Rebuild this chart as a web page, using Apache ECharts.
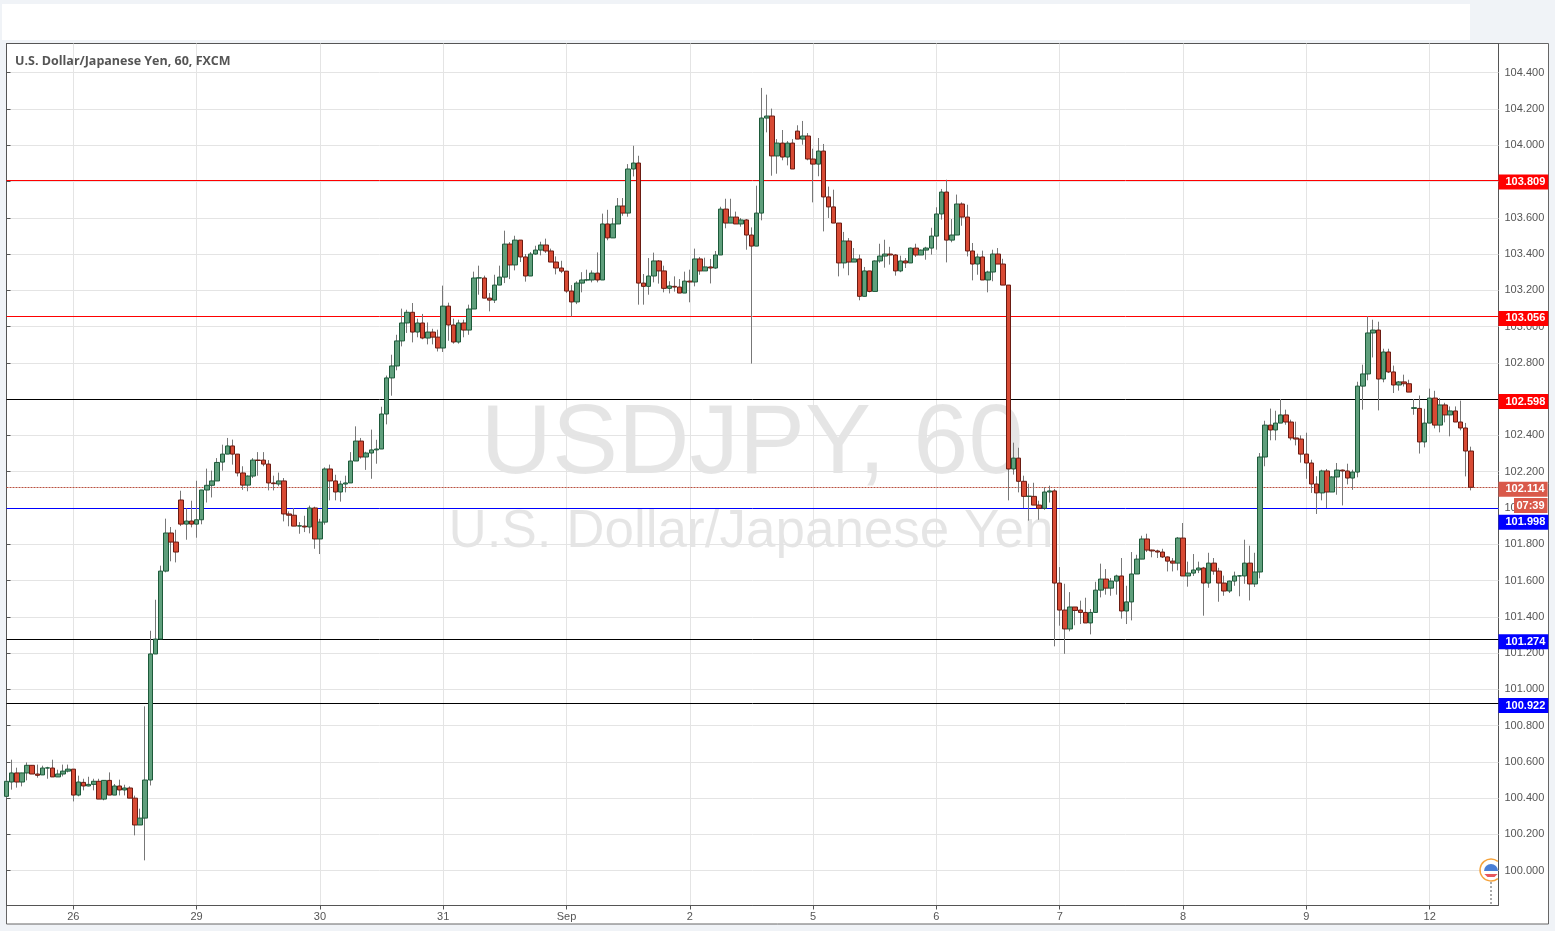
<!DOCTYPE html>
<html>
<head>
<meta charset="utf-8">
<title>USDJPY, 60</title>
<style>html,body{margin:0;padding:0;background:#f0f3f7}#main{width:1555px;height:931px}</style>
<script src="https://cdn.jsdelivr.net/npm/echarts@6/dist/echarts.min.js"></script>
</head>
<body>
<div id="main"></div>
<script>
const opens = [
100.41,100.489,100.539,100.489,100.539,100.581,100.533,100.528,100.566,100.566,
100.517,100.533,100.549,100.56,100.417,100.487,100.467,100.476,100.493,100.395,
100.498,100.417,100.467,100.445,100.456,100.40,100.252,100.29,100.50,101.195,
101.277,101.652,101.862,101.812,102.044,101.911,101.928,101.911,101.935,102.099,
102.125,102.149,102.253,102.297,102.342,102.297,102.193,102.126,102.176,102.264,
102.264,102.242,102.138,102.132,102.149,101.967,101.96,101.90,101.90,101.895,
102.0,101.829,101.922,102.215,102.149,102.088,102.132,102.138,102.259,102.369,
102.281,102.303,102.32,102.325,102.518,102.717,102.783,102.921,103.02,103.079,
102.97,103.02,102.937,102.97,102.942,102.882,103.113,103.009,102.915,103.02,
102.981,103.097,103.268,103.268,103.157,103.146,103.229,103.273,103.455,103.34,
103.477,103.384,103.279,103.40,103.422,103.45,103.417,103.356,103.323,103.306,
103.196,103.136,103.24,103.257,103.257,103.295,103.257,103.566,103.489,103.566,
103.665,103.626,103.869,103.902,103.24,103.222,103.279,103.362,103.307,103.211,
103.222,103.218,103.185,103.251,103.246,103.373,103.307,103.329,103.323,103.395,
103.648,103.571,103.604,103.566,103.588,103.505,103.444,103.626,104.15,104.161,
103.941,104.012,103.935,104.012,104.078,104.034,104.051,103.924,103.896,103.968,
103.715,103.66,103.571,103.351,103.472,103.356,103.373,103.167,103.307,103.194,
103.362,103.389,103.40,103.395,103.307,103.362,103.351,103.433,103.395,103.422,
103.433,103.499,103.621,103.742,103.477,103.505,103.676,103.604,103.417,103.345,
103.384,103.257,103.301,103.40,103.345,103.229,102.215,102.275,102.147,102.064,
102.064,102.016,101.998,102.088,102.094,101.586,101.437,101.333,101.454,101.437,
101.424,101.366,101.424,101.547,101.608,101.558,101.597,101.625,101.432,101.482,
101.636,101.718,101.829,101.768,101.763,101.757,101.73,101.707,101.696,101.834,
101.625,101.641,101.658,101.669,101.586,101.696,101.652,101.586,101.542,101.597,
101.625,101.625,101.696,101.581,101.647,102.281,102.457,102.43,102.468,102.513,
102.474,102.386,102.38,102.297,102.248,102.132,102.083,102.204,102.088,102.171,
102.209,102.204,102.165,102.198,102.672,102.739,102.965,102.981,102.711,102.86,
102.75,102.678,102.695,102.685,102.549,102.549,102.364,102.468,102.606,102.457,
102.568,102.513,102.535,102.474,102.441,102.314];
const closes = [
100.493,100.539,100.489,100.539,100.581,100.533,100.526,100.566,100.567,100.517,
100.533,100.549,100.56,100.417,100.489,100.467,100.476,100.493,100.395,100.498,
100.417,100.467,100.445,100.456,100.40,100.252,100.29,100.50,101.195,101.277,
101.652,101.862,101.812,101.757,101.911,101.928,101.911,101.935,102.099,102.125,
102.149,102.251,102.297,102.342,102.297,102.193,102.126,102.176,102.264,102.262,
102.242,102.138,102.134,102.149,101.967,101.96,101.90,101.902,101.895,102.0,
101.829,101.922,102.215,102.149,102.088,102.132,102.138,102.259,102.369,102.281,
102.303,102.32,102.325,102.518,102.717,102.783,102.921,103.02,103.079,102.97,
103.02,102.937,102.97,102.942,102.882,103.113,103.009,102.915,103.02,102.981,
103.097,103.268,103.269,103.157,103.146,103.229,103.273,103.455,103.34,103.477,
103.384,103.279,103.40,103.422,103.45,103.417,103.356,103.323,103.306,103.196,
103.136,103.24,103.257,103.258,103.295,103.257,103.566,103.489,103.566,103.665,
103.626,103.869,103.902,103.24,103.222,103.279,103.362,103.307,103.211,103.224,
103.218,103.185,103.251,103.246,103.373,103.307,103.329,103.323,103.395,103.648,
103.571,103.604,103.566,103.588,103.505,103.444,103.626,104.15,104.161,103.941,
104.012,103.935,104.012,103.869,104.034,104.051,103.924,103.896,103.968,103.715,
103.66,103.571,103.351,103.472,103.356,103.373,103.167,103.307,103.194,103.362,
103.389,103.40,103.395,103.307,103.362,103.351,103.433,103.395,103.422,103.433,
103.499,103.621,103.742,103.477,103.505,103.676,103.604,103.417,103.345,103.384,
103.257,103.301,103.40,103.345,103.229,102.215,102.275,102.147,102.064,102.065,
102.016,101.998,102.088,102.094,101.586,101.437,101.333,101.454,101.435,101.424,
101.366,101.424,101.547,101.608,101.558,101.597,101.625,101.432,101.482,101.636,
101.718,101.829,101.768,101.763,101.757,101.73,101.707,101.696,101.834,101.625,
101.641,101.658,101.669,101.586,101.696,101.652,101.586,101.542,101.597,101.625,
101.626,101.696,101.581,101.647,102.281,102.457,102.43,102.468,102.513,102.474,
102.386,102.38,102.297,102.248,102.132,102.083,102.204,102.088,102.171,102.209,
102.204,102.165,102.198,102.672,102.739,102.965,102.981,102.711,102.86,102.75,
102.678,102.695,102.685,102.639,102.553,102.364,102.468,102.606,102.457,102.568,
102.513,102.535,102.474,102.441,102.314,102.114];
const highs = [
100.50,100.612,100.568,100.54,100.597,100.581,100.585,100.579,100.573,100.612,
100.557,100.585,100.585,100.56,100.524,100.507,100.518,100.507,100.507,100.50,
100.542,100.478,100.502,100.474,100.465,100.414,100.342,100.906,101.323,101.494,
101.682,101.941,101.895,101.88,102.095,101.999,102.04,102.15,102.10,102.217,
102.206,102.275,102.349,102.386,102.377,102.297,102.23,102.18,102.275,102.308,
102.308,102.264,102.178,102.195,102.165,101.981,102.0,101.922,101.957,102.013,
102.007,101.94,102.224,102.239,102.183,102.15,102.178,102.308,102.45,102.386,
102.31,102.432,102.376,102.558,102.73,102.845,102.955,103.099,103.093,103.13,
103.044,103.07,103.023,102.988,102.983,103.226,103.132,103.044,103.038,103.038,
103.121,103.303,103.336,103.281,103.185,103.286,103.336,103.529,103.466,103.501,
103.477,103.40,103.411,103.446,103.468,103.485,103.43,103.387,103.363,103.306,
103.229,103.25,103.30,103.314,103.31,103.409,103.623,103.644,103.599,103.709,
103.709,103.896,103.997,103.942,103.29,103.378,103.408,103.367,103.336,103.25,
103.277,103.262,103.303,103.314,103.43,103.384,103.38,103.373,103.417,103.661,
103.705,103.705,103.634,103.599,103.593,103.547,103.777,104.316,104.279,104.202,
104.034,104.084,104.023,104.034,104.11,104.134,104.067,103.981,104.04,104.007,
103.772,103.755,103.571,103.522,103.488,103.433,103.397,103.329,103.307,103.365,
103.457,103.479,103.44,103.40,103.391,103.378,103.436,103.457,103.425,103.44,
103.545,103.658,103.759,103.81,103.593,103.728,103.685,103.672,103.461,103.402,
103.419,103.308,103.424,103.433,103.374,103.229,102.36,102.332,102.178,102.134,
102.139,102.04,102.115,102.123,102.105,101.674,101.582,101.536,101.454,101.489,
101.505,101.443,101.593,101.693,101.663,101.614,101.632,101.724,101.571,101.757,
101.742,101.847,101.858,101.77,101.77,101.775,101.733,101.724,101.84,101.917,
101.704,101.746,101.704,101.675,101.753,101.724,101.67,101.627,101.60,101.649,
101.63,101.825,101.792,101.753,102.303,102.481,102.548,102.536,102.601,102.542,
102.487,102.476,102.40,102.415,102.266,102.175,102.211,102.215,102.175,102.248,
102.212,102.244,102.211,102.696,102.79,103.057,103.038,103.027,102.878,102.878,
102.785,102.70,102.735,102.707,102.601,102.62,102.547,102.658,102.646,102.606,
102.58,102.56,102.56,102.592,102.469,102.338];
const lows = [
100.40,100.447,100.458,100.465,100.498,100.533,100.513,100.528,100.507,100.517,
100.517,100.52,100.542,100.382,100.41,100.443,100.465,100.443,100.395,100.388,
100.417,100.417,100.415,100.415,100.40,100.195,100.252,100.057,100.47,101.195,
101.277,101.645,101.706,101.70,101.90,101.825,101.893,101.836,101.91,102.03,
102.058,102.149,102.206,102.297,102.239,102.174,102.10,102.092,102.165,102.178,
102.23,102.097,102.097,102.12,101.926,101.899,101.90,101.858,101.867,101.86,
101.775,101.746,101.908,102.042,102.042,102.035,102.086,102.138,102.259,102.272,
102.21,102.161,102.244,102.325,102.461,102.619,102.759,102.891,102.965,102.913,
102.941,102.93,102.902,102.902,102.863,102.86,102.922,102.906,102.906,102.941,
102.955,103.097,103.176,103.157,103.084,103.13,103.229,103.24,103.262,103.31,
103.356,103.248,103.279,103.396,103.393,103.406,103.356,103.288,103.295,103.185,
103.056,103.124,103.189,103.25,103.244,103.244,103.257,103.476,103.489,103.566,
103.611,103.606,103.828,103.121,103.121,103.176,103.244,103.237,103.189,103.183,
103.193,103.185,103.185,103.134,103.222,103.286,103.307,103.238,103.318,103.395,
103.542,103.571,103.566,103.551,103.424,102.796,103.444,103.586,104.071,103.832,
103.843,103.917,103.889,103.869,104.034,104.003,103.917,103.685,103.829,103.525,
103.599,103.571,103.277,103.321,103.283,103.356,103.145,103.167,103.189,103.194,
103.352,103.325,103.342,103.281,103.30,103.323,103.351,103.384,103.395,103.369,
103.397,103.424,103.59,103.354,103.465,103.505,103.556,103.387,103.255,103.286,
103.257,103.189,103.25,103.345,103.229,102.042,102.184,102.086,102.0,101.93,
102.016,101.935,101.99,102.03,101.237,101.351,101.196,101.32,101.353,101.36,
101.366,101.303,101.424,101.507,101.522,101.516,101.522,101.39,101.36,101.38,
101.636,101.718,101.757,101.728,101.724,101.724,101.65,101.65,101.656,101.625,
101.566,101.625,101.641,101.406,101.56,101.632,101.483,101.516,101.531,101.571,
101.513,101.582,101.49,101.564,101.612,102.23,102.373,102.373,102.468,102.459,
102.373,102.345,102.25,102.161,102.083,101.967,102.042,102.0,102.088,102.073,
102.014,102.13,102.10,102.169,102.542,102.704,102.83,102.538,102.693,102.744,
102.634,102.647,102.67,102.639,102.514,102.30,102.334,102.468,102.439,102.417,
102.472,102.395,102.474,102.428,102.174,102.097];

const dayTickPositions = [13,37,61,85,109,133,157,181,205,229,253,277];
const dayTickLabels = ['26','29','30','31','Sep','2','5','6','7','8','9','12'];
const priceTicks = [100.0,100.2,100.4,100.6,100.8,101.0,101.2,101.4,101.6,101.8,102.0,102.2,102.4,102.6,102.8,103.0,103.2,103.4,103.6,103.8,104.0,104.2,104.4];
const levelPrices = [103.809,103.056,102.598,101.998,101.274,100.922];
const levelLineColors = ['#ff0000','#ff0000','#000000','#0000ff','#000000','#000000'];
const levelTagColors = ['#ff0000','#ff0000','#ff0000','#0000ff','#0000ff','#0000ff'];
const levelTagOffsets = [0,0,0,12,0,0];
const lastPrice = 102.114;
const countdown = '07:39';

const AXIS_X_MIN = 0, AXIS_X_MAX = 290.4;
const AXIS_Y_MIN = 99.8081, AXIS_Y_MAX = 104.561;
const TEXT = '#555555';
const LAST = '#d9594a';
const SANS = '"Liberation Sans", Arial, sans-serif';

const tagLabel = (bg, off) => ({
  show: true, position: 'end', distance: 0, offset: [0, off + 2], align: 'left', verticalAlign: 'middle',
  formatter: p => Number(p.value).toFixed(3),
  color: '#fff', fontFamily: SANS, fontWeight: 'bold', fontSize: 11, lineHeight: 11,
  backgroundColor: bg, padding: [2, 3, 2, 7]
});

const levelLines = levelPrices.map((v, i) => ({
  yAxis: v,
  lineStyle: { color: levelLineColors[i], width: 1, type: 'solid' },
  label: tagLabel(levelTagColors[i], levelTagOffsets[i])
}));
levelLines.unshift({
  yAxis: lastPrice,
  lineStyle: { color: '#b9503f', width: 1, type: [2, 1] },
  label: tagLabel(LAST, 0)
});

const wickData = opens.map((o, i) => [i, o, closes[i], lows[i], highs[i]]);
const bodyData = opens.map((o, i) => [i, o, closes[i], Math.min(o, closes[i]), Math.max(o, closes[i])]);

const chart = echarts.init(document.getElementById('main'), null, { renderer: 'canvas' });
chart.setOption({
  animation: false,
  backgroundColor: '#f0f3f7',
  title: {
    text: 'U.S. Dollar/Japanese Yen, 60, FXCM', left: 15, top: 54.5, padding: 0,
    textStyle: { fontFamily: '"Open Sans", sans-serif', fontSize: 12.5, fontWeight: 'bold', color: TEXT }
  },
  grid: {
    left: 6.5, right: 56.5, top: 43.5, bottom: 25.5, show: true,
    backgroundColor: 'rgba(0,0,0,0)', borderColor: '#555555', borderWidth: 1, containLabel: false
  },
  xAxis: {
    type: 'value', min: AXIS_X_MIN, max: AXIS_X_MAX,
    axisLine: { show: true, onZero: false, lineStyle: { color: '#555555' } },
    axisTick: { show: true, length: 4, lineStyle: { color: '#555555' }, customValues: dayTickPositions },
    axisLabel: {
      show: true, margin: 6, color: TEXT, fontFamily: SANS, fontSize: 11, customValues: dayTickPositions,
      formatter: v => dayTickLabels[dayTickPositions.indexOf(Math.round(v))] || ''
    },
    splitLine: { show: true, lineStyle: { color: '#e4e4e4', width: 1 } }
  },
  yAxis: {
    type: 'value', position: 'right', min: AXIS_Y_MIN, max: AXIS_Y_MAX, scale: true,
    axisLine: { show: true, lineStyle: { color: '#555555' } },
    axisTick: { show: true, length: 4, lineStyle: { color: '#555555' }, customValues: priceTicks },
    axisLabel: {
      show: true, margin: 6, color: TEXT, fontFamily: SANS, fontSize: 11, customValues: priceTicks,
      padding: [4, 0, 0, 0],
      formatter: v => Number(v).toFixed(3)
    },
    splitLine: { show: true, lineStyle: { color: '#e4e4e4', width: 1 } }
  },
  series: [
    {
      name: 'wicks', type: 'candlestick', barWidth: 1, silent: true, z: 3,
      itemStyle: { color: '#777777', color0: '#777777', borderColor: '#777777', borderColor0: '#777777', borderWidth: 1 },
      data: wickData
    },
    {
      name: 'bodies', type: 'candlestick', barWidth: 5, silent: true, z: 4,
      itemStyle: { color: '#5f9f7c', color0: '#d84a34', borderColor: '#1d5a3a', borderColor0: '#6a1b12', borderWidth: 1 },
      data: bodyData
    },
    {
      name: 'levels', type: 'line', data: [], silent: true, z: 2,
      markLine: { silent: true, symbol: 'none', animation: false, z: 2, precision: 3, data: levelLines }
    }
  ],
  graphic: { elements: [
    { type: 'rect', silent: true, z: -10, shape: { x: 2, y: 4, width: 1468, height: 36 }, style: { fill: '#ffffff' } },
    { type: 'rect', silent: true, z: -10, shape: { x: 6.5, y: 43.5, width: 1542, height: 880.5 }, style: { fill: '#ffffff', stroke: '#666666', lineWidth: 1 } },
    { type: 'text', silent: true, z: -5, style: { text: 'USDJPY, 60', x: 752, y: 446, align: 'center', verticalAlign: 'middle', font: '99px "Liberation Sans"', fill: 'rgba(0,0,0,0.1)' } },
    { type: 'text', silent: true, z: -5, style: { text: 'U.S. Dollar/Japanese Yen', x: 751, y: 532, align: 'center', verticalAlign: 'middle', font: '53px "Liberation Sans"', fill: 'rgba(0,0,0,0.1)' } },
    { type: 'rect', silent: true, z: 30, shape: { x: 1514, y: 498, width: 33.5, height: 15 }, style: { fill: LAST } },
    { type: 'text', silent: true, z: 31, style: { text: countdown, x: 1530.5, y: 505.5, align: 'center', verticalAlign: 'middle', font: 'bold 11px "Liberation Sans"', fill: '#ffffff' } },
    { type: 'line', silent: true, z: 20, shape: { x1: 1491, y1: 882, x2: 1491, y2: 905 }, style: { stroke: '#aaaaaa', lineWidth: 2, lineDash: [2, 2] } },
    { type: 'sector', silent: true, z: 20, shape: { cx: 1491, cy: 870, r: 11, r0: 0, startAngle: 0.9, endAngle: 5.38, clockwise: true }, style: { fill: '#ffffff' } },
    { type: 'sector', silent: true, z: 21, shape: { cx: 1491, cy: 871, r: 7, r0: 0, startAngle: Math.PI, endAngle: 2 * Math.PI, clockwise: true }, style: { fill: '#4a7fd6' } },
    { type: 'polygon', silent: true, z: 21, shape: { points: [[1484.4, 874], [1497.6, 874], [1494.5, 877], [1487.5, 877]] }, style: { fill: '#e8575c' } },
    { type: 'arc', silent: true, z: 22, shape: { cx: 1491, cy: 870, r: 11, startAngle: 0.9, endAngle: 5.38, clockwise: true }, style: { stroke: '#f5a33c', lineWidth: 1.4, fill: 'none' } }
  ] }
});
</script>
</body>
</html>
